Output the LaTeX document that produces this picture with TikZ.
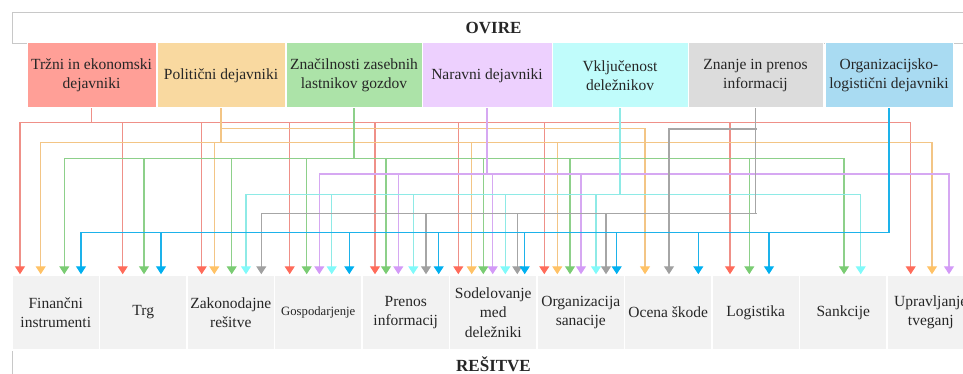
\documentclass[tikz,border=0pt]{standalone}
\usepackage{fontspec}
\setmainfont{Liberation Serif}
\usetikzlibrary{arrows.meta}
\definecolor{txt}{HTML}{262626}
\definecolor{framec}{HTML}{C8C8C8}
\definecolor{f1}{HTML}{FF9F97}
\definecolor{f2}{HTML}{F9D9A0}
\definecolor{f3}{HTML}{ACE3A8}
\definecolor{f4}{HTML}{EDD0FE}
\definecolor{f5}{HTML}{C0FCFB}
\definecolor{f6}{HTML}{DCDCDC}
\definecolor{f7}{HTML}{A9DBF2}
\definecolor{sfill}{HTML}{F2F2F2}
\definecolor{rl}{HTML}{EF9088}
\definecolor{rh}{HTML}{FF6B5A}
\definecolor{ol}{HTML}{F3C585}
\definecolor{oh}{HTML}{FFC266}
\definecolor{gl}{HTML}{8DD08A}
\definecolor{gh}{HTML}{7ACC73}
\definecolor{pl}{HTML}{D6A8F2}
\definecolor{ph}{HTML}{D39AF7}
\definecolor{cl}{HTML}{8EEAE6}
\definecolor{ch}{HTML}{80FAFA}
\definecolor{al}{HTML}{A6A6A6}
\definecolor{ah}{HTML}{A0A0A0}
\definecolor{bl}{HTML}{1DB2EA}
\definecolor{bh}{HTML}{00B0F0}
\begin{document}
\begin{tikzpicture}[x=1pt,y=-1pt,
  cat/.style={draw=white, line width=1pt, minimum height=65pt, align=center, inner sep=0pt, text=txt, font=\fontsize{15.5}{19}\selectfont},
  sol/.style={draw=white, line width=1.5pt, fill=sfill, minimum height=75pt, minimum width=87.5pt, align=center, inner sep=0pt, text=txt, font=\fontsize{15.5}{19.5}\selectfont},
  ttl/.style={text=txt, font=\bfseries\fontsize{17}{20}\selectfont, inner sep=0pt},
  frame/.style={draw=framec, line width=0.8pt},
  wire/.style={draw=#1, line width=1.4pt, line cap=rect},
  stem/.style={draw=#1, line width=1.9pt},
  tip/.style={-{Triangle[width=10pt,length=8pt,color=#1]}}]
\useasboundingbox (0,0) rectangle (963,374);
\clip (0,0) rectangle (963,374);
% frames
\draw[frame, fill=white] (12,12.5) rectangle (990,43);
\draw[frame, fill=white] (12,275) rectangle (990,400);
\node[ttl] (ovire) at (493.5,28) {OVIRE};
\node[ttl] (resitve) at (493.5,364) {REŠITVE};
% top categories
\node[cat, fill=f1, minimum width=129pt] (t1) at (91.5,75.5) {Tržni in ekonomski\\dejavniki};
\node[cat, fill=f2, minimum width=128pt] (t2) at (221,75.5) {Politični dejavniki};
\node[cat, fill=f3, minimum width=136pt] (t3) at (354,75.5) {Značilnosti zasebnih\\lastnikov gozdov};
\node[cat, fill=f4, minimum width=130pt] (t4) at (487,75.5) {Naravni dejavniki};
\node[cat, fill=f5, minimum width=136pt] (t5) at (620,75.5) {Vključenost\\deležnikov};
\node[cat, fill=f6, minimum width=135pt] (t6) at (755.5,75.5) {Znanje in prenos\\informacij};
\node[cat, fill=f7, minimum width=128pt] (t7) at (889,75.5) {Organizacijsko-\\logistični dejavniki};
% solutions
\node[sol] (s1) at (55.75,312.5) {Finančni\\instrumenti};
\node[sol] (s2) at (143.25,312.5) {Trg};
\node[sol] (s3) at (230.75,312.5) {Zakonodajne\\rešitve};
\node[sol, font=\fontsize{12.7}{15}\selectfont] (s4) at (318.25,312.5) {Gospodarjenje};
\node[sol] (s5) at (405.75,312.5) {Prenos\\informacij};
\node[sol] (s6) at (493.25,312.5) {Sodelovanje\\med\\deležniki};
\node[sol] (s7) at (580.75,312.5) {Organizacija\\sanacije};
\node[sol] (s8) at (668.25,312.5) {Ocena škode};
\node[sol] (s9) at (755.75,312.5) {Logistika};
\node[sol] (s10) at (843.25,312.5) {Sankcije};
\node[sol] (s11) at (930.75,312.5) {Upravljanje\\tveganj};
% red
\draw[stem=rl] (t1.south) -- (t1.south |- 0,122.7);
\draw[wire=rl] (20,122.7) -- (910.7,122.7);
\foreach \x/\s in {20/s1,122.7/s2,201.7/s3,289.7/s4,375/s5,458.3/s6,544.3/s7,730/s9,910.7/s11}
  \draw[wire=rl, line cap=butt, tip=rh] (\x,122.7) -- (\s.north -| \x,0);
% orange
\draw[stem=ol] (t2.south) -- (t2.south |- 0,142.3);
\draw[wire=ol] (221,128.3) -- (645,128.3);
\draw[wire=ol] (40.7,142.3) -- (932,142.3);
\draw[wire=ol, line cap=butt, tip=oh] (645,128.3) -- (s8.north -| 645,0);
\foreach \x/\s in {40.7/s1,214.3/s3,471.7/s6,557.3/s7,932/s11}
  \draw[wire=ol, line cap=butt, tip=oh] (\x,142.3) -- (\s.north -| \x,0);
% green
\draw[stem=gl] (t3.south) -- (t3.south |- 0,158.7);
\draw[wire=gl] (64.3,158.7) -- (844,158.7);
\foreach \x/\s in {64.3/s1,144/s2,231.7/s3,306.7/s4,386/s5,483.3/s6,570/s7,749.3/s9,844/s10}
  \draw[wire=gl, line cap=butt, tip=gh] (\x,158.7) -- (\s.north -| \x,0);
% purple
\draw[stem=pl] (t4.south) -- (t4.south |- 0,174);
\draw[wire=pl] (319.3,174) -- (949,174);
\foreach \x/\s in {319.3/s4,398.3/s5,492.7/s6,581/s7,949/s11}
  \draw[wire=pl, line cap=butt, tip=ph] (\x,174) -- (\s.north -| \x,0);
% cyan
\draw[stem=cl] (t5.south) -- (t5.south |- 0,194.3);
\draw[wire=cl] (246,194.3) -- (860.7,194.3);
\foreach \x/\s in {246/s3,331.7/s4,413.3/s5,505.3/s6,596/s7,860.7/s10}
  \draw[wire=cl, line cap=butt, tip=ch] (\x,194.3) -- (\s.north -| \x,0);
% gray
\draw[stem=al] (t6.south) -- (t6.south |- 0,213.7);
\draw[wire=al] (669,129) -- (756,129);
\draw[wire=al] (261.3,213.7) -- (756,213.7);
\draw[wire=al, line cap=butt, tip=ah] (669,129) -- (s8.north -| 669,0);
\foreach \x/\s in {261.3/s3,426/s5,517.3/s6,606/s7}
  \draw[wire=al, line cap=butt, tip=ah] (\x,213.7) -- (\s.north -| \x,0);
% blue
\draw[stem=bl] (t7.south) -- (t7.south |- 0,232.3);
\draw[wire=bl] (81,232.3) -- (889.3,232.3);
\foreach \x/\s in {81/s1,161/s2,349.3/s4,438.7/s5,524.7/s6,616.7/s7,698.3/s8,769/s9}
  \draw[wire=bl, line cap=butt, tip=bh] (\x,232.3) -- (\s.north -| \x,0);
\end{tikzpicture}
\end{document}
